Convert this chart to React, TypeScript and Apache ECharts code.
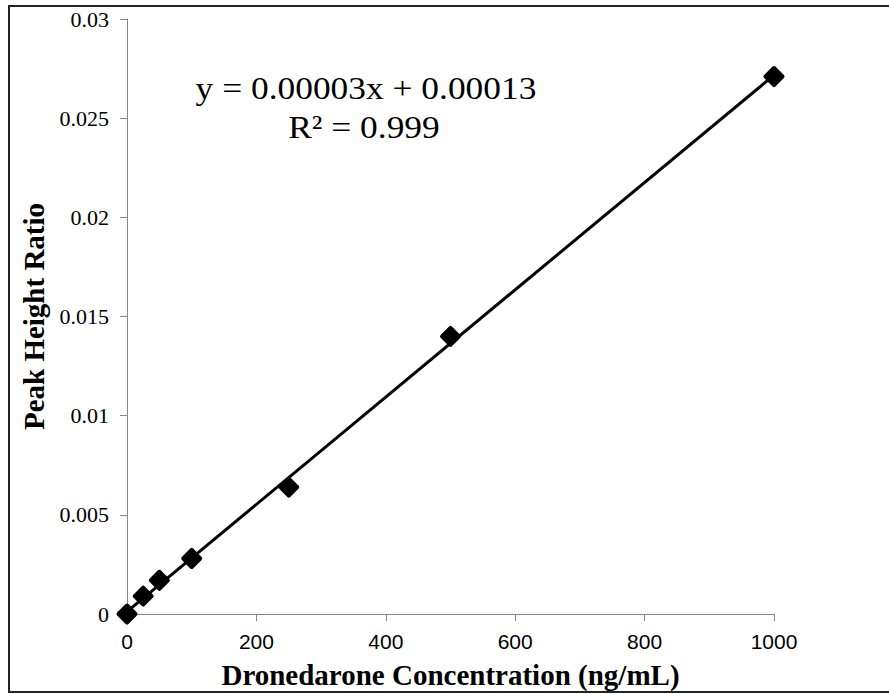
import React, { useEffect, useRef } from "react";
import * as echarts from "echarts";

const concentrations = [0, 25, 50, 100, 250, 500, 1000];
const peakHeightRatios = [0, 0.0009, 0.0017, 0.0028, 0.0064, 0.014, 0.0271];
const yTicks = [0, 0.005, 0.01, 0.015, 0.02, 0.025, 0.03];
const xTicks = [0, 200, 400, 600, 800, 1000];
const equationText = "y = 0.00003x + 0.00013";
const r2Text = "R² = 0.999";
const xTitle = "Dronedarone Concentration (ng/mL)";
const yTitle = "Peak Height Ratio";

function fitLine(xs: number[], ys: number[]) {
  const n = xs.length;
  const mx = xs.reduce((a, b) => a + b, 0) / n;
  const my = ys.reduce((a, b) => a + b, 0) / n;
  let sxy = 0;
  let sxx = 0;
  for (let i = 0; i < n; i++) {
    sxy += (xs[i] - mx) * (ys[i] - my);
    sxx += (xs[i] - mx) * (xs[i] - mx);
  }
  const slope = sxy / sxx;
  return { slope, intercept: my - slope * mx };
}

const SERIF = "'Liberation Serif', 'Times New Roman', serif";
const SANS = "'Liberation Sans', Arial, sans-serif";

export default function App() {
  const ref = useRef<HTMLDivElement>(null);
  useEffect(() => {
    if (!ref.current) return;
    const chart = echarts.init(ref.current, undefined, { renderer: "svg" });
    const { slope, intercept } = fitLine(concentrations, peakHeightRatios);
    const x0 = concentrations[0];
    const x1 = concentrations[concentrations.length - 1];
    const trend = [
      [x0, intercept + slope * x0],
      [x1, intercept + slope * x1],
    ];
    chart.setOption({
      animation: false,
      backgroundColor: "#ffffff",
      grid: { left: 127, top: 19, right: 115, bottom: 79, containLabel: false },
      xAxis: {
        type: "value",
        min: xTicks[0],
        max: xTicks[xTicks.length - 1],
        interval: 200,
        splitLine: { show: false },
        axisLine: { show: true, onZero: false, lineStyle: { color: "#868686", width: 1 } },
        axisTick: { show: true, length: 7, lineStyle: { color: "#868686" } },
        axisLabel: {
          margin: 17,
          color: "#000",
          fontFamily: SANS,
          fontSize: 21,
          formatter: (v: number) => String(v),
        },
        name: xTitle,
        nameLocation: "middle",
        nameGap: 46,
        nameTextStyle: {
          color: "#000",
          fontFamily: SERIF,
          fontWeight: "bold",
          fontSize: 29,
        },
      },
      yAxis: {
        type: "value",
        min: yTicks[0],
        max: yTicks[yTicks.length - 1],
        interval: 0.005,
        splitLine: { show: false },
        axisLine: { show: true, onZero: false, lineStyle: { color: "#868686", width: 1 } },
        axisTick: { show: true, inside: false, length: 7, lineStyle: { color: "#868686" } },
        axisLabel: {
          margin: 18,
          color: "#000",
          fontFamily: SERIF,
          fontSize: 22,
          formatter: (v: number) => String(parseFloat(v.toFixed(4))),
        },
        name: yTitle,
        nameLocation: "middle",
        nameGap: 74,
        nameRotate: 90,
        nameTextStyle: {
          color: "#000",
          fontFamily: SERIF,
          fontWeight: "bold",
          fontSize: 29,
        },
      },
      series: [
        {
          type: "line",
          data: trend,
          showSymbol: false,
          symbol: "none",
          lineStyle: { color: "#000", width: 3 },
          z: 2,
          silent: true,
        },
        {
          type: "scatter",
          data: concentrations.map((c, i) => [c, peakHeightRatios[i]]),
          symbol: "diamond",
          symbolSize: 17,
          itemStyle: {
            color: "#000",
            borderColor: "#000",
            borderWidth: 4,
            borderJoin: "round",
            opacity: 1,
          },
          z: 3,
        },
      ],
      graphic: [
        {
          type: "rect",
          shape: { x: 9, y: 6, width: 900, height: 686 },
          style: { fill: "none", stroke: "#222", lineWidth: 2 },
          silent: true,
        },
        {
          type: "text",
          x: 366,
          y: 88,
          scaleX: 1.18,
          scaleY: 1.05,
          style: {
            text: equationText,
            fill: "#000",
            font: "30px " + SERIF,
            textAlign: "center",
            textVerticalAlign: "middle",
          },
        },
        {
          type: "text",
          x: 364,
          y: 127,
          scaleX: 1.18,
          scaleY: 1.05,
          style: {
            text: r2Text,
            fill: "#000",
            font: "30px " + SERIF,
            textAlign: "center",
            textVerticalAlign: "middle",
          },
        },
      ],
    });
    return () => chart.dispose();
  }, []);
  return (
    <div
      ref={ref}
      style={{ position: "fixed", left: 0, top: 0, width: 889, height: 694 }}
    />
  );
}
